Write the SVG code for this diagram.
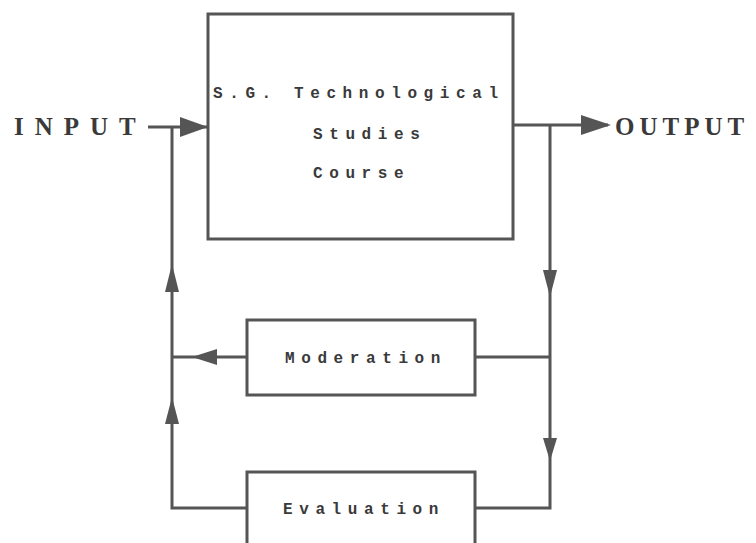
<svg xmlns="http://www.w3.org/2000/svg" width="756" height="543" viewBox="0 0 756 543">
<style>
.box{fill:#fff;stroke:#555;stroke-width:3}
.ln{fill:none;stroke:#555;stroke-width:3}
.ah{fill:#555;stroke:none}
.lbl{font-family:"Liberation Mono",monospace;font-weight:bold;font-size:16px;fill:#3a3a3a;letter-spacing:6.6px}
.io{font-family:"Liberation Serif",serif;font-weight:bold;font-size:25px;fill:#3a3a3a;letter-spacing:11px}
</style>
<rect width="756" height="543" fill="#fff"/>
<g id="connectors">
<path class="ln" d="M148,127 H208"/>
<path class="ln" d="M513,125 H608"/>
<path class="ln" d="M172,127 V508 H247"/>
<path class="ln" d="M550,125 V508 H475"/>
<path class="ln" d="M247,357 H172"/>
<path class="ln" d="M475,357 H550"/>
<polygon class="ah" points="208,127 180,117 180,137"/>
<polygon class="ah" points="611,125 581,115 581,135"/>
<polygon class="ah" points="172,264 165,292 179,292"/>
<polygon class="ah" points="172,397 165,424 179,424"/>
<polygon class="ah" points="550,297 543,270 557,270"/>
<polygon class="ah" points="550,461 543,438 557,438"/>
<polygon class="ah" points="192,357 217,349 217,365"/>
</g>
<g id="input"><text class="io" x="14" y="135">INPUT</text></g>
<g id="output"><text class="io" x="615" y="135" style="letter-spacing:5px">OUTPUT</text></g>
<g id="course">
<rect class="box" x="208" y="14" width="305" height="225"/>
<text class="lbl" x="213" y="98">S.G. Technological</text>
<text class="lbl" x="313" y="139">Studies</text>
<text class="lbl" x="313" y="178">Course</text>
</g>
<g id="moderation">
<rect class="box" x="247" y="320" width="228" height="75"/>
<text class="lbl" x="285" y="363">Moderation</text>
</g>
<g id="evaluation">
<rect class="box" x="247" y="472" width="228" height="90"/>
<text class="lbl" x="283" y="514">Evaluation</text>
</g>
</svg>
